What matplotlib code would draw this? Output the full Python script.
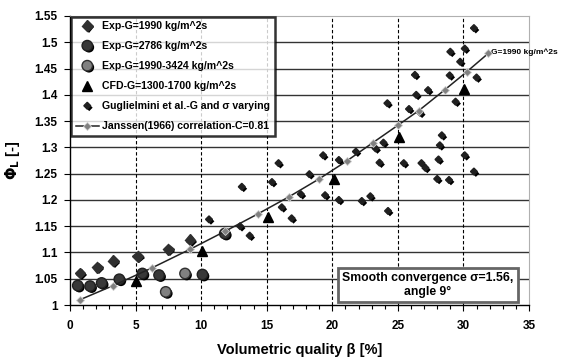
import matplotlib
matplotlib.use("Agg")
import matplotlib.pyplot as plt
import matplotlib.patheffects as pe

plt.rcParams['font.family'] = ['Liberation Sans', 'DejaVu Sans']
plt.rcParams['font.weight'] = 'bold'

# ---- data ----
exp1990_x = [0.76, 2.08, 3.3, 5.16, 7.5, 9.15]
exp1990_y = [1.061, 1.072, 1.084, 1.093, 1.106, 1.124]

exp2786_x = [0.59, 1.53, 2.41, 3.76, 5.52, 6.79, 10.1, 11.8]
exp2786_y = [1.037, 1.036, 1.042, 1.049, 1.060, 1.057, 1.058, 1.136]

expmix_x = [7.3, 8.77]
expmix_y = [1.025, 1.060]

cfd_x = [5.0, 10.1, 15.1, 20.1, 25.1, 30.08]
cfd_y = [1.046, 1.103, 1.167, 1.239, 1.319, 1.411]

gug_x = [10.6, 12.97, 13.1, 13.7, 15.4, 15.9, 16.15, 16.9, 17.6, 18.25, 19.3, 19.45,
         20.5, 20.5, 21.8, 22.25, 22.9, 23.3, 23.9, 23.6, 24.25, 24.2, 25.85, 25.45,
         26.3, 26.4, 27.3, 26.8, 27.1, 28.1, 28.35, 28.2, 28.0, 28.9, 29.0, 28.95,
         29.75, 30.1, 30.8, 31.0, 29.4, 30.1, 30.8, 26.7]
gug_y = [1.163, 1.150, 1.225, 1.132, 1.234, 1.270, 1.186, 1.165, 1.211, 1.249, 1.285, 1.209,
         1.276, 1.200, 1.292, 1.198, 1.207, 1.298, 1.309, 1.271, 1.179, 1.384, 1.373, 1.270,
         1.438, 1.400, 1.409, 1.270, 1.261, 1.277, 1.323, 1.304, 1.240, 1.238, 1.482, 1.437,
         1.463, 1.488, 1.527, 1.433, 1.387, 1.285, 1.254, 1.366]

jan_x = [0.76, 3.3, 6.28, 9.15, 11.8, 14.3, 16.7, 19.0, 21.1, 23.1, 25.0, 26.6, 28.6, 30.26, 31.9]
jan_y = [1.010, 1.037, 1.071, 1.106, 1.140, 1.173, 1.206, 1.240, 1.274, 1.309, 1.342, 1.370, 1.410, 1.444, 1.479]

labels = ["Exp-G=1990 kg/m^2s", "Exp-G=2786 kg/m^2s", "Exp-G=1990-3424 kg/m^2s",
          "CFD-G=1300-1700 kg/m^2s", "Guglielmini et al.-G and σ varying",
          "Janssen(1966) correlation-C=0.81"]

fig = plt.figure(figsize=(5.72, 3.63), dpi=100)
ax = fig.add_axes([70/572, 1-305/363, 459/572, 289/363])

shadow = [pe.SimplePatchShadow(offset=(1.2, -1.2), shadow_rgbFace='black', alpha=1.0), pe.Normal()]

ax.plot(exp1990_x, exp1990_y, ls='none', marker='D', ms=5.5, mfc='#303030', mec='#303030',
        path_effects=shadow, zorder=4, label=labels[0])
ax.plot(exp2786_x, exp2786_y, ls='none', marker='o', ms=7.5, mfc='#383838', mec='#202020',
        path_effects=shadow, zorder=4, label=labels[1])
ax.plot(expmix_x, expmix_y, ls='none', marker='o', ms=7.5, mfc='#808080', mec='#303030',
        path_effects=shadow, zorder=4, label=labels[2])
ax.plot(cfd_x, cfd_y, ls='none', marker='^', ms=7, mfc='black', mec='black',
        zorder=6, label=labels[3])
ax.plot(gug_x, gug_y, ls='none', marker='D', ms=3.5, mfc='#202020', mec='#202020',
        path_effects=[pe.SimplePatchShadow(offset=(1.4, -1.4), shadow_rgbFace='black', alpha=1.0), pe.Normal()],
        zorder=3, label=labels[4])
ax.plot(jan_x, jan_y, ls='-', lw=1.1, color='#222222', marker='D', ms=4.2, mfc='#808080',
        mec='#d0d0d0', mew=0.6, zorder=5, label=labels[5])

ax.annotate("G=1990 kg/m^2s", xy=(32.1, 1.481), fontsize=6, fontweight='bold',
            va='center', ha='left', annotation_clip=False)

ax.set_xlim(0, 35)
ax.set_ylim(1.0, 1.55)
ax.set_xticks(range(0, 36, 5))
ax.set_xticks(range(0, 36, 1), minor=True)
ax.set_yticks([1 + 0.05*i for i in range(12)])
ax.set_yticklabels(["1", "1.05", "1.1", "1.15", "1.2", "1.25", "1.3", "1.35", "1.4", "1.45", "1.5", "1.55"])
ax.tick_params(axis='both', which='major', labelsize=8.5, direction='out', length=4, width=0.8)
ax.tick_params(axis='x', which='major', pad=7)
ax.tick_params(axis='y', which='major', pad=5)
ax.tick_params(axis='x', which='minor', direction='out', length=3, width=0.8)
for lbl in ax.get_xticklabels() + ax.get_yticklabels():
    lbl.set_fontweight('bold')

for v in [1 + 0.05*i for i in range(1, 11)]:
    ax.axhline(v, color='#333333', lw=1.0, zorder=1)
for v in range(5, 35, 5):
    ax.axvline(v, color='black', lw=0.8, ls=(0, (3, 2)), zorder=1)

for s in ['top', 'right']:
    ax.spines[s].set_color('#b0b0b0')
for s in ['left', 'bottom']:
    ax.spines[s].set_color('black')
    ax.spines[s].set_linewidth(1.0)

ax.set_xlabel("Volumetric quality β [%]", fontsize=10.5, fontweight='bold', labelpad=8)
ax.set_ylabel(r"$\mathbf{\Phi_L}$ [-]", fontsize=10.5, fontweight='bold', labelpad=9)

leg = ax.legend(loc='upper left', bbox_to_anchor=(0.002, 0.998), fontsize=7.6, frameon=True,
                fancybox=False, shadow=False, labelspacing=0.95, handlelength=2.2,
                handletextpad=0.3, borderpad=0.45, borderaxespad=0.0)
leg.get_frame().set_edgecolor('black')
leg.get_frame().set_linewidth(1.8)
leg.set_zorder(10)
for t in leg.get_texts():
    t.set_fontweight('bold')

ax.text(0.78, 0.069, "Smooth convergence σ=1.56,\nangle 9°", transform=ax.transAxes,
        ha='center', va='center', fontsize=8.8, fontweight='bold', zorder=10, linespacing=1.15,
        bbox=dict(boxstyle='square,pad=0.38', fc='white', ec='#666666', lw=2.0))

fig.savefig("out.png", dpi=100)
